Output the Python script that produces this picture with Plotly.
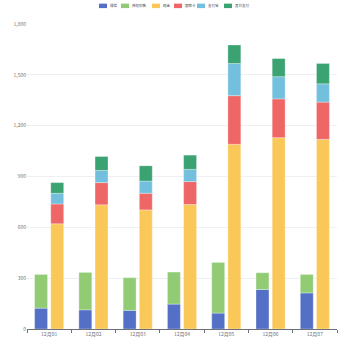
import plotly.graph_objects as go
import numpy as np

categories = ["12月01", "12月02", "12月03", "12月04", "12月05", "12月06", "12月07"]
s_wechat = [123, 113, 110, 147, 94, 233, 213]
s_auth = [199, 221, 193, 189, 299, 99, 109]
s_cash = [621, 733, 703, 735, 1090, 1129, 1119]
s_card = [117, 131, 98, 135, 287, 229, 220]
s_alipay = [63, 72, 72, 72, 190, 131, 108]
s_other = [63, 82, 90, 84, 109, 107, 120]

names = ["微信", "授权扣款", "现金", "银联卡", "支付宝", "其它支付"]
colors = ["#5470c6", "#91cc75", "#fac858", "#ee6666", "#73c0de", "#3ba272"]
groups = ["a", "a", "b", "b", "b", "b"]
series = [s_wechat, s_auth, s_cash, s_card, s_alipay, s_other]

W, H = 350, 350
ML, MR, MT, MB = 27, 13, 24, 19
PW, PH = W - ML - MR, H - MT - MB

def px(x):
    return (x - ML) / PW

def py(y):
    return (H - MB - y) / PH

fig = go.Figure()
bases = {"a": np.zeros(len(categories)), "b": np.zeros(len(categories))}
for name, col, g, vals in zip(names, colors, groups, series):
    v = np.array(vals, dtype=float)
    fig.add_trace(go.Bar(
        x=categories, y=v, base=bases[g].copy(), name=name, offsetgroup=g,
        marker=dict(color=col, line=dict(color="rgba(255,255,255,0.6)", width=0.5)),
        showlegend=False,
    ))
    bases[g] = bases[g] + v

# custom compact legend (top centre)
icon_left = [99, 121, 152, 174, 197, 224]
shapes, annotations = [], []
for name, col, xl in zip(names, colors, icon_left):
    shapes.append(dict(type="rect", xref="paper", yref="paper",
                       x0=px(xl), x1=px(xl + 8), y0=py(8), y1=py(3.5),
                       fillcolor=col, line=dict(width=0)))
    annotations.append(dict(text=name, xref="paper", yref="paper", x=px(xl + 9), y=py(5.8),
                            xanchor="left", yanchor="middle", showarrow=False,
                            font=dict(size=3.5, color="#444")))

fig.update_layout(
    width=W, height=H,
    barmode="group", bargap=0.27, bargroupgap=0.2,
    margin=dict(l=ML, r=MR, t=MT, b=MB),
    plot_bgcolor="white", paper_bgcolor="white",
    font=dict(family="Noto Sans CJK SC, sans-serif", size=5, color="#6e7079"),
    showlegend=False,
    shapes=shapes, annotations=annotations,
    xaxis=dict(type="category", tickson="boundaries", ticks="outside", ticklen=3,
               tickcolor="#6e7079", showline=True, linecolor="#6e7079", linewidth=1,
               showgrid=False, tickfont=dict(size=5, color="#6e7079")),
    yaxis=dict(range=[0, 1800], tickvals=[0, 300, 600, 900, 1200, 1500, 1800], tickformat=",d",
               showgrid=True, gridcolor="#eef0f4", gridwidth=1, zeroline=False,
               showline=False, tickfont=dict(size=5, color="#6e7079"), ticks=""),
)

fig.write_html("out.html")
